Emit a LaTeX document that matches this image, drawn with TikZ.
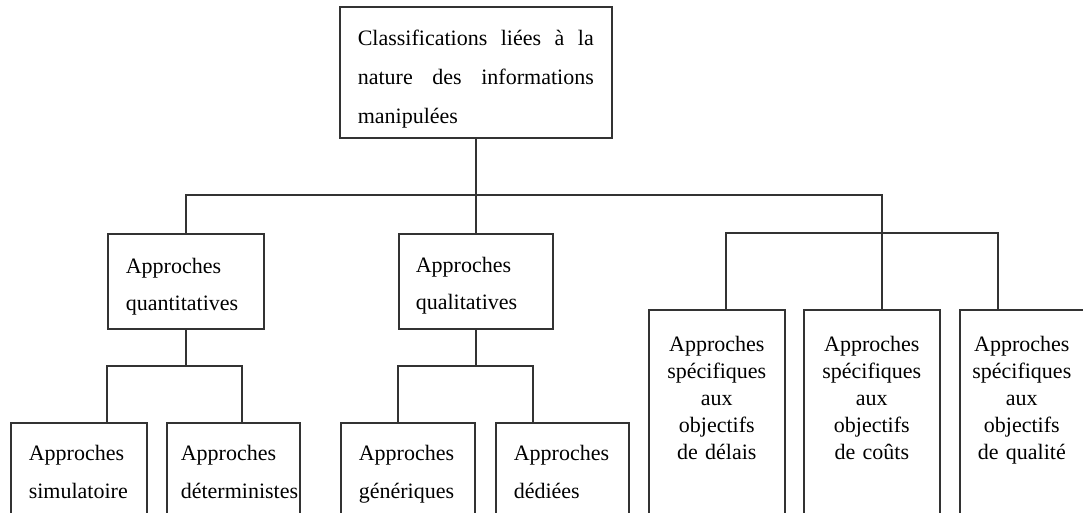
\documentclass[tikz,border=0pt]{standalone}
\usepackage{fontspec}
\setmainfont{Liberation Serif}
\begin{document}
\begin{tikzpicture}[x=1pt,y=-1pt,
  conn/.style={draw=black!80, line width=1.6pt},
  box/.style={draw=black!80, line width=1.6pt, anchor=north west, inner ysep=0pt},
  lbox/.style={box, align=left},
  cbox/.style={box, align=center, inner xsep=0pt, font=\fontsize{22}{27}\selectfont, text height=42pt, text depth=200pt},
]
\useasboundingbox (0,0) rectangle (1083,513);
\clip (0,0) rectangle (1083,513);
\fill[white] (0,0) rectangle (1083,513);

% top
\node[box, align=justify, inner xsep=18pt, text width=236pt, text height=39pt, text depth=92pt,
      font=\fontsize{22}{39}\selectfont] (top) at (339,6)
  {Classifications liées à la\linebreak nature des informations\linebreak manipulées};

% second level
\node[lbox, inner xsep=18pt, text width=120pt, text height=40pt, text depth=55pt,
      font=\fontsize{22}{37}\selectfont] (quant) at (107,233) {Approches\\quantitatives};
\node[lbox, inner xsep=17pt, text width=120pt, text height=39pt, text depth=56pt,
      font=\fontsize{22}{37}\selectfont] (qual) at (398,233) {Approches\\qualitatives};

% third level left
\node[lbox, inner xsep=18pt, text width=100pt, text height=38pt, text depth=100pt,
      font=\fontsize{22}{38}\selectfont] (simul) at (10,422) {Approches\\simulatoire};
\node[lbox, inner xsep=14pt, text width=105pt, text height=38pt, text depth=100pt,
      font=\fontsize{22}{38}\selectfont] (determ) at (166,422) {Approches\\déterministes};
\node[lbox, inner xsep=18pt, text width=98pt, text height=38pt, text depth=100pt,
      font=\fontsize{22}{38}\selectfont] (gen) at (340,422) {Approches\\génériques};
\node[lbox, inner xsep=18pt, text width=97pt, text height=38pt, text depth=100pt,
      font=\fontsize{22}{38}\selectfont] (ded) at (495,422) {Approches\\dédiées};

% right boxes
\node[cbox, text width=136pt] (delais) at (648,309) {Approches\\spécifiques\\aux\\objectifs\\de délais};
\node[cbox, text width=136pt] (couts) at (803,309) {Approches\\spécifiques\\aux\\objectifs\\de coûts};
\node[cbox, text width=124pt] (qualite) at (959,309) {Approches\\spécifiques\\aux\\objectifs\\de qualité};

% junctions
\coordinate (busL) at (185,195);
\coordinate (busR) at (882,195);
\coordinate (rL) at (726,233);
\coordinate (rR) at (998,233);
\coordinate (qL) at (107,366);
\coordinate (qR) at (242,366);
\coordinate (gL) at (398,366);
\coordinate (gR) at (533,366);

% connectors
\draw[conn] (top.south) -- (top.south |- busL);
\draw[conn] (quant.north) -- (quant.north |- busL) -- (busR) -- (couts.north -| busR);
\draw[conn] (qual.north) -- (qual.north |- busL);
\draw[conn] (delais.north -| rL) -- (rL) -- (rR) -- (qualite.north -| rR);

\draw[conn] (quant.south) -- (quant.south |- qL);
\draw[conn] (simul.north -| qL) -- (qL) -- (qR) -- (determ.north -| qR);
\draw[conn] (qual.south) -- (qual.south |- gL);
\draw[conn] (gen.north -| gL) -- (gL) -- (gR) -- (ded.north -| gR);
\end{tikzpicture}
\end{document}
